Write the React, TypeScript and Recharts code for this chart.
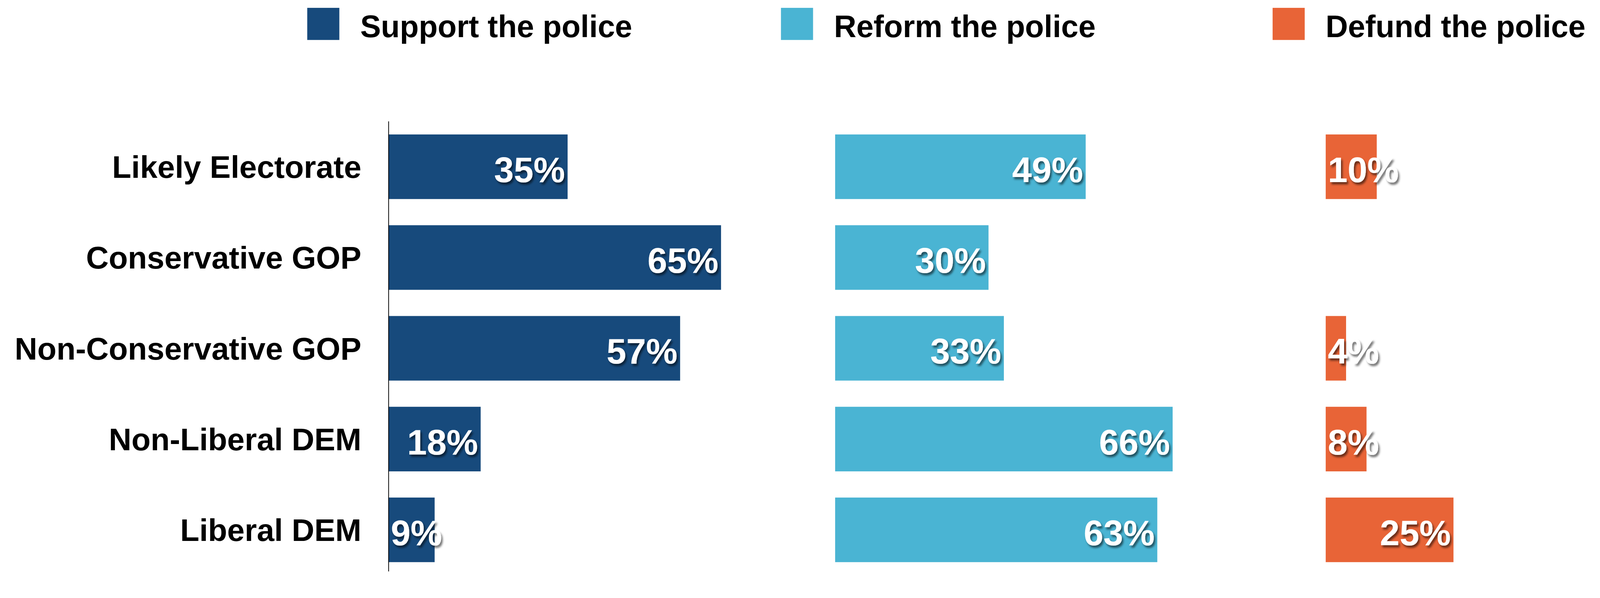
import { Bar, BarChart, LabelList, XAxis, YAxis } from "recharts";

const categories = [
  "Likely Electorate",
  "Conservative GOP",
  "Non-Conservative GOP",
  "Non-Liberal DEM",
  "Liberal DEM",
];
const support = [35, 65, 57, 18, 9];
const reform = [49, 30, 33, 66, 63];
const defund: (number | null)[] = [10, null, 4, 8, 25];

const seriesNames = ["Support the police", "Reform the police", "Defund the police"];
const seriesColors = ["#174a7c", "#4ab4d3", "#e86437"];

const rows = categories.map((name, i) => ({
  name,
  support: support[i],
  reform: reform[i],
  defund: defund[i],
}));

const FONT = '"Liberation Sans", Arial, sans-serif';
const W = 4286;
const H = 1530;
// the page seems to be shot at ~4096 css px wide and stretched, so draw in picture px and scale down
const SCALE = 4096 / 4286;
const PX_PER_PCT = 13.7;
const CHART_H = 1540;
const TOP = 325;
const BAR_H = 173;

// panel geometry: left edge, width, and y-axis width (first panel carries the labels)
const panels = [
  { key: "support", left: 0, width: 2237, axisW: 1041 },
  { key: "reform", left: 2237, width: 1314, axisW: 0 },
  { key: "defund", left: 3551, width: 735, axisW: 0 },
];

const legendX = [823, 2092, 3409];

function renderValue(props: any) {
  const { x, y, width, height, value } = props;
  if (value === null || value === undefined) return null;
  const text = `${value}%`;
  const fs = 95;
  const est = (text.length - 1) * 0.556 * fs + 0.889 * fs;
  const fits = width >= est + 14;
  return (
    <text
      x={fits ? x + width - 7 : x + 6}
      y={y + height / 2 + 41}
      textAnchor={fits ? "end" : "start"}
      fill="#fff"
      fontSize={fs}
      fontWeight={700}
      fontFamily={FONT}
      filter="url(#labelShadow)"
    >
      {text}
    </text>
  );
}

export default function App() {
  return (
    <div
      style={{
        position: "absolute",
        left: 0,
        top: 0,
        width: Math.floor(W * SCALE),
        height: Math.floor(H * SCALE),
        overflow: "hidden",
        background: "#fff",
      }}
    >
      <div
        style={{
          position: "absolute",
          left: 0,
          top: 0,
          width: W,
          height: H,
          overflow: "hidden",
          transform: `scale(${SCALE})`,
          transformOrigin: "0 0",
          fontFamily: FONT,
        }}
      >
        <svg width={W} height={140} style={{ position: "absolute", left: 0, top: 0 }}>
          <defs>
            <filter id="labelShadow" x="-20%" y="-20%" width="150%" height="160%">
              <feDropShadow dx="4" dy="6" stdDeviation="3" floodColor="#000" floodOpacity="0.55" />
            </filter>
          </defs>
          {seriesNames.map((s, i) => (
            <g key={s}>
              <rect x={legendX[i]} y={21} width={86} height={86} fill={seriesColors[i]} />
              <text
                x={legendX[i] + 142}
                y={99}
                fontSize={83}
                fontWeight={700}
                fontFamily={FONT}
                fill="#000"
              >
                {s}
              </text>
            </g>
          ))}
        </svg>

        {panels.map((p, i) => {
          const plotW = p.width - p.axisW;
          return (
            <div key={p.key} style={{ position: "absolute", left: p.left, top: 0 }}>
              <BarChart
                width={p.width}
                height={CHART_H}
                data={rows}
                layout="vertical"
                margin={{ top: TOP, right: 0, bottom: 0, left: 0 }}
              >
                <XAxis
                  type="number"
                  hide
                  domain={[0, plotW / PX_PER_PCT]}
                  allowDataOverflow
                />
                <YAxis
                  type="category"
                  dataKey="name"
                  hide={i > 0}
                  width={p.axisW}
                  axisLine={{ stroke: "#000", strokeWidth: 2 }}
                  tickLine={false}
                  tickSize={0}
                  tickMargin={73}
                  tick={{ fontSize: 84, fontWeight: 700, fill: "#000", fontFamily: FONT }}
                />
                <Bar
                  dataKey={p.key}
                  fill={seriesColors[i]}
                  barSize={BAR_H}
                  isAnimationActive={false}
                >
                  <LabelList dataKey={p.key} content={renderValue} />
                </Bar>
              </BarChart>
            </div>
          );
        })}
      </div>
    </div>
  );
}
